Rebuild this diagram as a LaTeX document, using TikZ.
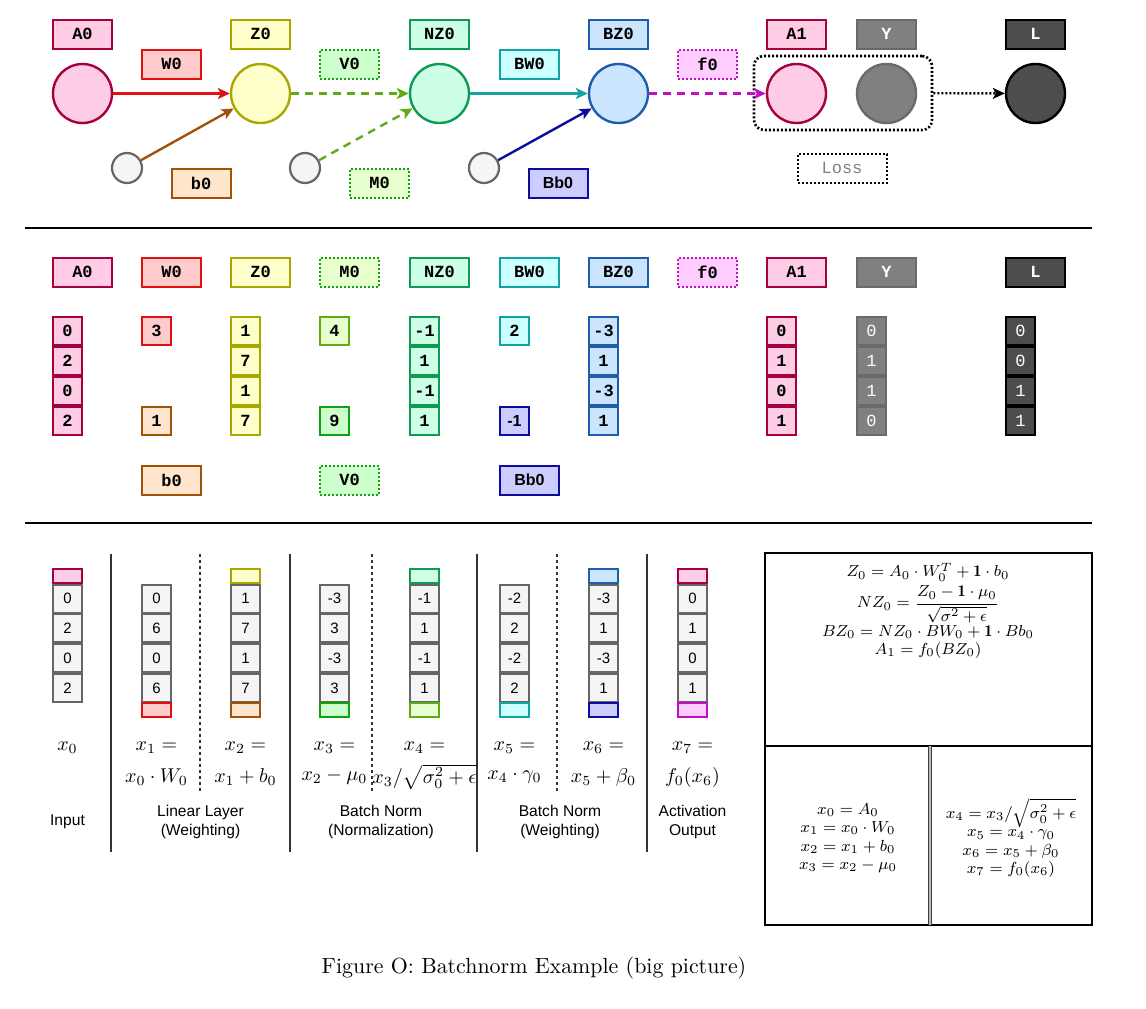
\documentclass[tikz,border=0pt]{standalone}
\usepackage{amsmath}
\usepackage{fontspec}
\setsansfont{Liberation Sans}
\setmonofont{Liberation Mono}
\usetikzlibrary{arrows.meta}

\newlength{\du}
\setlength{\du}{0.5pt}

\definecolor{pinkF}{HTML}{FFCCE6}\definecolor{pinkD}{HTML}{A50040}
\definecolor{redF}{HTML}{FFCCCC}\definecolor{redD}{HTML}{E01010}
\definecolor{yelF}{HTML}{FFFFCC}\definecolor{yelD}{HTML}{A8A800}
\definecolor{oraF}{HTML}{FFE6CC}\definecolor{oraD}{HTML}{A0520A}
\definecolor{grnF}{HTML}{CCFFCC}\definecolor{grnD}{HTML}{10A010}
\definecolor{limF}{HTML}{E6FFCC}\definecolor{limD}{HTML}{60A917}
\definecolor{mntF}{HTML}{CCFFE6}\definecolor{mntD}{HTML}{0E9A52}
\definecolor{cyaF}{HTML}{CCFFFF}\definecolor{cyaD}{HTML}{12A4A4}
\definecolor{bluF}{HTML}{CCE5FF}\definecolor{bluD}{HTML}{1E5EA8}
\definecolor{dblF}{HTML}{CCCCFF}\definecolor{dblD}{HTML}{0C0CA0}
\definecolor{magF}{HTML}{FFCCFF}\definecolor{magD}{HTML}{C010C0}
\definecolor{gryF}{HTML}{F5F5F5}\definecolor{gryD}{HTML}{666666}
\definecolor{ygrF}{HTML}{808080}\definecolor{ygrD}{HTML}{6A6A6A}
\definecolor{drkF}{HTML}{4D4D4D}\definecolor{drkD}{HTML}{000000}
\definecolor{sepcol}{HTML}{333333}

\newcommand{\lblfont}{\fontsize{8.5}{10}\selectfont\ttfamily\bfseries}
\newcommand{\thinfont}{\fontsize{8.5}{10}\selectfont\ttfamily}
\newcommand{\sansbold}{\fontsize{8}{10}\selectfont\sffamily\bfseries}
\newcommand{\cellfont}{\fontsize{7.5}{9}\selectfont\sffamily}
\newcommand{\grpfont}{\fontsize{7.8}{9.5}\selectfont\sffamily}
\newcommand{\eqfont}{\fontsize{8.2}{9.2}\selectfont}
\newcommand{\capfont}{\fontsize{10.95}{13}\selectfont}

\tikzset{
  cpink/.style={fill=pinkF,draw=pinkD},
  cred/.style={fill=redF,draw=redD},
  cyel/.style={fill=yelF,draw=yelD},
  cora/.style={fill=oraF,draw=oraD},
  cgrn/.style={fill=grnF,draw=grnD},
  clim/.style={fill=limF,draw=limD},
  cmnt/.style={fill=mntF,draw=mntD},
  ccya/.style={fill=cyaF,draw=cyaD},
  cblu/.style={fill=bluF,draw=bluD},
  cdbl/.style={fill=dblF,draw=dblD},
  cmag/.style={fill=magF,draw=magD},
  cgray/.style={fill=ygrF,draw=ygrD},
  cdark/.style={fill=drkF,draw=drkD},
  lbl/.style={draw,line width=1pt,minimum width=29.5pt,minimum height=14.5pt,inner sep=0pt,font=\lblfont},
  dotline/.style={dash pattern=on 1pt off 1pt},
  dashline/.style={dash pattern=on 4pt off 3pt},
  dotlbl/.style={lbl,dotline},
  val/.style={draw,line width=1pt,minimum width=14.5pt,minimum height=14pt,inner sep=0pt,font=\lblfont},
  neuron/.style={circle,draw,line width=1.2pt,minimum size=29.5pt,inner sep=0pt},
  bias/.style={circle,draw=gryD,fill=gryF,line width=1.1pt,minimum size=15pt,inner sep=0pt},
  cell/.style={draw=gryD,fill=gryF,line width=1pt,minimum width=14.5pt,minimum height=14pt,inner sep=0pt,font=\cellfont},
  capbox/.style={draw,line width=1pt,minimum width=14.5pt,minimum height=7pt,inner sep=0pt},
  arr/.style={-{Stealth[length=6pt,width=5.5pt,inset=1.5pt]},line width=1.2pt},
  sepline/.style={line width=1.3pt,draw=black},
  colsep/.style={line width=1pt,draw=sepcol},
  subsep/.style={line width=0.9pt,draw=sepcol,dash pattern=on 1.5pt off 1.5pt},
  grouptxt/.style={align=center,font=\grpfont}
}

\begin{document}
\begin{tikzpicture}[yscale=-1]
\useasboundingbox (0,0) rectangle (1146\du,1008\du);

% top: graph of the layer
\node[lbl,cpink] (tA0) at (82.5\du,34\du) {A0};
\node[lbl,cyel] (tZ0) at (260.5\du,34\du) {Z0};
\node[lbl,cmnt] (tNZ0) at (439.5\du,34\du) {NZ0};
\node[lbl,cblu] (tBZ0) at (618.5\du,34\du) {BZ0};
\node[lbl,cpink] (tA1) at (796.5\du,34\du) {A1};
\node[lbl,cgray,text=white] (tY) at (886.5\du,34\du) {Y};
\node[lbl,cdark,text=white] (tL) at (1035.5\du,34\du) {L};
\node[lbl,cred] (tW0) at (171.5\du,64\du) {W0};
\node[dotlbl,cgrn] (tV0) at (349.5\du,64\du) {V0};
\node[lbl,ccya] (tBW0) at (529.5\du,64\du) {BW0};
\node[dotlbl,cmag] (tf0) at (707.5\du,64\du) {f0};

\node[neuron,cpink] (cA0) at (82.5\du,93.5\du) {};
\node[neuron,cyel] (cZ0) at (260.5\du,93.5\du) {};
\node[neuron,cmnt] (cNZ0) at (439.5\du,93.5\du) {};
\node[neuron,cblu] (cBZ0) at (618.5\du,93.5\du) {};
\node[neuron,cpink] (cA1) at (796.5\du,93.5\du) {};
\node[neuron,cgray] (cY) at (886.5\du,93.5\du) {};
\node[neuron,cdark] (cL) at (1035.5\du,93.5\du) {};

\node[bias] (cb0) at (127\du,168\du) {};
\node[bias] (cM0) at (305\du,168\du) {};
\node[bias] (cBb0) at (484\du,168\du) {};
\node[lbl,cora] (tb0) at (201\du,183\du) {b0};
\node[dotlbl,cgrn,fill=limF] (tM0) at (379.5\du,183\du) {M0};
\node[lbl,cdbl,font=\sansbold] (tBb0) at (558\du,183\du) {Bb0};

\node[draw,dotline,line width=1.3pt,rounded corners=5pt,minimum width=89pt,minimum height=37pt] (grp) at (843\du,93\du) {};
\node[dotlbl,draw=black,fill=white,font=\thinfont,text=gray,minimum width=44.5pt] (tLoss) at (842\du,168\du) {Loss};

\draw[arr,redD] (cA0) -- (cZ0);
\draw[arr,oraD] (cb0) -- (cZ0);
\draw[arr,limD,dashline] (cZ0) -- (cNZ0);
\draw[arr,limD,dashline] (cM0) -- (cNZ0);
\draw[arr,cyaD] (cNZ0) -- (cBZ0);
\draw[arr,dblD] (cBb0) -- (cBZ0);
\draw[arr,magD,dashline] (cBZ0) -- (cA1);
\draw[arr,black,dotline] (grp) -- (cL);

\draw[sepline] (25\du,228\du) -- (1092\du,228\du);

% middle: the values
\node[lbl,cpink] (mA0) at (82.5\du,272\du) {A0};
\node[lbl,cred] (mW0) at (171.5\du,272\du) {W0};
\node[lbl,cyel] (mZ0) at (260.5\du,272\du) {Z0};
\node[dotlbl,cgrn,fill=limF] (mM0) at (349.5\du,272\du) {M0};
\node[lbl,cmnt] (mNZ0) at (439.5\du,272\du) {NZ0};
\node[lbl,ccya] (mBW0) at (529.5\du,272\du) {BW0};
\node[lbl,cblu] (mBZ0) at (618.5\du,272\du) {BZ0};
\node[dotlbl,cmag] (mf0) at (707.5\du,272\du) {f0};
\node[lbl,cpink] (mA1) at (796.5\du,272\du) {A1};
\node[lbl,cgray,text=white] (mY) at (886.5\du,272\du) {Y};
\node[lbl,cdark,text=white] (mL) at (1035.5\du,272\du) {L};

\node[val,cpink] (vA0a) at (67.5\du,331\du) {0};
\node[val,cpink] (vA0b) at (67.5\du,361\du) {2};
\node[val,cpink] (vA0c) at (67.5\du,391\du) {0};
\node[val,cpink] (vA0d) at (67.5\du,421\du) {2};
\node[val,cred] (vW0) at (156.5\du,331\du) {3};
\node[val,cora] (vb0) at (156.5\du,421\du) {1};
\node[val,cyel] (vZ0a) at (245.5\du,331\du) {1};
\node[val,cyel] (vZ0b) at (245.5\du,361\du) {7};
\node[val,cyel] (vZ0c) at (245.5\du,391\du) {1};
\node[val,cyel] (vZ0d) at (245.5\du,421\du) {7};
\node[val,clim] (vM0) at (334.5\du,331\du) {4};
\node[val,cgrn] (vV0) at (334.5\du,421\du) {9};
\node[val,cmnt] (vNZ0a) at (424.5\du,331\du) {-1};
\node[val,cmnt] (vNZ0b) at (424.5\du,361\du) {1};
\node[val,cmnt] (vNZ0c) at (424.5\du,391\du) {-1};
\node[val,cmnt] (vNZ0d) at (424.5\du,421\du) {1};
\node[val,ccya] (vBW0) at (514.5\du,331\du) {2};
\node[val,cdbl,font=\sansbold] (vBb0) at (514.5\du,421\du) {-1};
\node[val,cblu] (vBZ0a) at (603.5\du,331\du) {-3};
\node[val,cblu] (vBZ0b) at (603.5\du,361\du) {1};
\node[val,cblu] (vBZ0c) at (603.5\du,391\du) {-3};
\node[val,cblu] (vBZ0d) at (603.5\du,421\du) {1};
\node[val,cpink] (vA1a) at (781.5\du,331\du) {0};
\node[val,cpink] (vA1b) at (781.5\du,361\du) {1};
\node[val,cpink] (vA1c) at (781.5\du,391\du) {0};
\node[val,cpink] (vA1d) at (781.5\du,421\du) {1};
\node[val,cgray,text=white,font=\thinfont] (vYa) at (871.5\du,331\du) {0};
\node[val,cgray,text=white,font=\thinfont] (vYb) at (871.5\du,361\du) {1};
\node[val,cgray,text=white,font=\thinfont] (vYc) at (871.5\du,391\du) {1};
\node[val,cgray,text=white,font=\thinfont] (vYd) at (871.5\du,421\du) {0};
\node[val,cdark,text=white,font=\thinfont] (vLa) at (1020.5\du,331\du) {0};
\node[val,cdark,text=white,font=\thinfont] (vLb) at (1020.5\du,361\du) {0};
\node[val,cdark,text=white,font=\thinfont] (vLc) at (1020.5\du,391\du) {1};
\node[val,cdark,text=white,font=\thinfont] (vLd) at (1020.5\du,421\du) {1};

\node[lbl,cora] (mb0) at (171.5\du,480\du) {b0};
\node[dotlbl,cgrn] (mV0) at (349.5\du,480\du) {V0};
\node[lbl,cdbl,font=\sansbold] (mBb0) at (529.5\du,480\du) {Bb0};

\draw[sepline] (25\du,523\du) -- (1092\du,523\du);

% bottom: step by step
\draw[colsep] (111\du,554\du) -- (111\du,852\du);
\draw[colsep] (290\du,554\du) -- (290\du,852\du);
\draw[colsep] (477\du,554\du) -- (477\du,852\du);
\draw[colsep] (647\du,554\du) -- (647\du,852\du);
\draw[subsep] (200\du,554\du) -- (200\du,792\du);
\draw[subsep] (372\du,554\du) -- (372\du,792\du);
\draw[subsep] (557\du,554\du) -- (557\du,792\du);

\node[capbox,cpink] (s0t) at (67.5\du,576\du) {};
\node[cell] (s0a) at (67.5\du,598.5\du) {0};
\node[cell] (s0b) at (67.5\du,628\du) {2};
\node[cell] (s0c) at (67.5\du,658\du) {0};
\node[cell] (s0d) at (67.5\du,688\du) {2};

\node[cell] (s1a) at (156.5\du,598.5\du) {0};
\node[cell] (s1b) at (156.5\du,628\du) {6};
\node[cell] (s1c) at (156.5\du,658\du) {0};
\node[cell] (s1d) at (156.5\du,688\du) {6};
\node[capbox,cred] (s1u) at (156.5\du,710\du) {};

\node[capbox,cyel] (s2t) at (245.5\du,576\du) {};
\node[cell] (s2a) at (245.5\du,598.5\du) {1};
\node[cell] (s2b) at (245.5\du,628\du) {7};
\node[cell] (s2c) at (245.5\du,658\du) {1};
\node[cell] (s2d) at (245.5\du,688\du) {7};
\node[capbox,cora] (s2u) at (245.5\du,710\du) {};

\node[cell] (s3a) at (334.5\du,598.5\du) {-3};
\node[cell] (s3b) at (334.5\du,628\du) {3};
\node[cell] (s3c) at (334.5\du,658\du) {-3};
\node[cell] (s3d) at (334.5\du,688\du) {3};
\node[capbox,cgrn] (s3u) at (334.5\du,710\du) {};

\node[capbox,cmnt] (s4t) at (424.5\du,576\du) {};
\node[cell] (s4a) at (424.5\du,598.5\du) {-1};
\node[cell] (s4b) at (424.5\du,628\du) {1};
\node[cell] (s4c) at (424.5\du,658\du) {-1};
\node[cell] (s4d) at (424.5\du,688\du) {1};
\node[capbox,clim] (s4u) at (424.5\du,710\du) {};

\node[cell] (s5a) at (514.5\du,598.5\du) {-2};
\node[cell] (s5b) at (514.5\du,628\du) {2};
\node[cell] (s5c) at (514.5\du,658\du) {-2};
\node[cell] (s5d) at (514.5\du,688\du) {2};
\node[capbox,ccya] (s5u) at (514.5\du,710\du) {};

\node[capbox,cblu] (s6t) at (603.5\du,576\du) {};
\node[cell] (s6a) at (603.5\du,598.5\du) {-3};
\node[cell] (s6b) at (603.5\du,628\du) {1};
\node[cell] (s6c) at (603.5\du,658\du) {-3};
\node[cell] (s6d) at (603.5\du,688\du) {1};
\node[capbox,cdbl] (s6u) at (603.5\du,710\du) {};

\node[capbox,cpink] (s7t) at (692.5\du,576\du) {};
\node[cell] (s7a) at (692.5\du,598.5\du) {0};
\node[cell] (s7b) at (692.5\du,628\du) {1};
\node[cell] (s7c) at (692.5\du,658\du) {0};
\node[cell] (s7d) at (692.5\du,688\du) {1};
\node[capbox,cmag] (s7u) at (692.5\du,710\du) {};

\node (q0) at (67.5\du,748\du) {$x_0$};
\node (q1) at (156.5\du,748\du) {$x_1 =$};
\node (q2) at (245.5\du,748\du) {$x_2 =$};
\node (q3) at (334.5\du,748\du) {$x_3 =$};
\node (q4) at (424.5\du,748\du) {$x_4 =$};
\node (q5) at (514.5\du,748\du) {$x_5 =$};
\node (q6) at (603.5\du,748\du) {$x_6 =$};
\node (q7) at (692.5\du,748\du) {$x_7 =$};
\node (r1) at (156.5\du,777\du) {$x_0 \cdot W_0$};
\node (r2) at (245.5\du,777\du) {$x_1 + b_0$};
\node (r3) at (334.5\du,777\du) {$x_2 - \mu_0$};
\node[inner sep=0pt] (r4) at (424.5\du,777\du) {$x_3/\sqrt{\sigma_0^2+\epsilon}$};
\node (r5) at (514.5\du,777\du) {$x_4 \cdot \gamma_0$};
\node (r6) at (603.5\du,777\du) {$x_5 + \beta_0$};
\node (r7) at (692.5\du,777\du) {$f_0(x_6)$};

\node[grouptxt] (gIn) at (67.5\du,822\du) {Input};
\node[grouptxt] (gLin) at (200.5\du,822\du) {Linear Layer\\(Weighting)};
\node[grouptxt] (gNorm) at (381\du,822\du) {Batch Norm\\(Normalization)};
\node[grouptxt] (gBW) at (560\du,822\du) {Batch Norm\\(Weighting)};
\node[grouptxt] (gAct) at (692.5\du,822\du) {Activation\\Output};

% formula box
\draw[line width=1.3pt] (765\du,553\du) rectangle (1092\du,925\du);
\draw[line width=1.3pt] (765\du,746\du) -- (1092\du,746\du);
\draw[draw=black!75,double=gray!55,double distance=1pt,line width=0.5pt] (930\du,746\du) -- (930\du,925\du);

\node[anchor=north,align=center,font=\eqfont] (fTop) at (928\du,556\du)
  {$Z_0 = A_0 \cdot W_0^T + \mathbf{1} \cdot b_0$\\[1pt]
   $\displaystyle NZ_0 = \frac{Z_0 - \mathbf{1} \cdot \mu_0}{\sqrt{\sigma^2+\epsilon}}$\\
   $BZ_0 = NZ_0 \cdot BW_0 + \mathbf{1} \cdot Bb_0$\\
   $A_1 = f_0(BZ_0)$};
\node[align=center,font=\eqfont] (fLeft) at (848\du,838\du)
  {$x_0 = A_0$\\ $x_1 = x_0 \cdot W_0$\\ $x_2 = x_1 + b_0$\\ $x_3 = x_2 - \mu_0$};
\node[align=center,font=\eqfont] (fRight) at (1011\du,838\du)
  {$x_4 = x_3/\sqrt{\sigma_0^2+\epsilon}$\\ $x_5 = x_4 \cdot \gamma_0$\\ $x_6 = x_5 + \beta_0$\\ $x_7 = f_0(x_6)$};

\node[font=\capfont] (caption) at (534\du,968\du) {Figure O: Batchnorm Example (big picture)};
\end{tikzpicture}
\end{document}
